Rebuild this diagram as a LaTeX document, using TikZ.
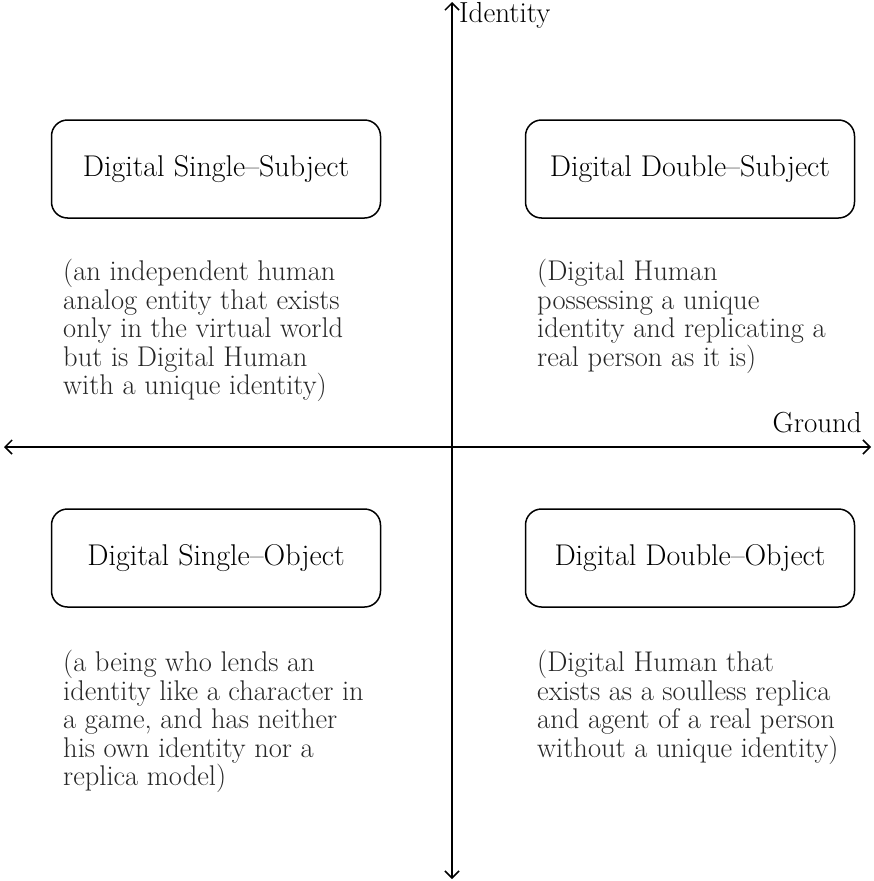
\documentclass[tikz,border=0pt]{standalone}
\usepackage{tikz}
\usetikzlibrary{arrows.meta}

\tikzset{
	quadbox/.style={draw=black, line width=1.5pt, rounded corners=16pt,
		minimum width=329pt, minimum height=98pt,
		font=\fontsize{30}{32}\selectfont},
	desc/.style={anchor=north west, inner sep=0pt, align=left,
		text=black!85, font=\fontsize{28.5}{28.6}\selectfont},
	axis/.style={line width=1.5pt,
		{Straight Barb[length=7pt,width=14pt,line width=1.5pt]}-{Straight Barb[length=7pt,width=14pt,line width=1.5pt]}},
	axlabel/.style={inner sep=0pt, font=\fontsize{29}{30}\selectfont}
}

\begin{document}
\begin{tikzpicture}[x=1pt, y=-1pt]
	
	\useasboundingbox (0,0) rectangle (873,881);
	
	% axes
	\coordinate (west)  at (4, 447);
	\coordinate (east)  at (871, 447);
	\coordinate (north) at (452, 2);
	\coordinate (south) at (452, 879);
	
	\draw[axis] (west) -- (east);
	\draw[axis] (south) -- (north);
	
	\node[axlabel, anchor=base west] (identity) at (459, 22) {Identity};
	\node[axlabel, anchor=base east] (ground) at (862, 432) {Ground};
	
	% quadrants
	\node[quadbox] (sglsubj) at (216, 169) {Digital Single--Subject};
	\node[quadbox] (dblsubj) at (690, 169) {Digital Double--Subject};
	\node[quadbox] (sglobj)  at (216, 558) {Digital Single--Object};
	\node[quadbox] (dblobj)  at (690, 558) {Digital Double--Object};
	
	\node[desc] (sglsubjtxt) at (63, 259)
		{(an independent human\\ analog entity that exists\\ only in the virtual world\\ but is Digital Human\\ with a unique identity)};
	\node[desc] (dblsubjtxt) at (537, 259)
		{(Digital Human\\ possessing a unique\\ identity and replicating a\\ real person as it is)};
	\node[desc] (sglobjtxt) at (63, 650)
		{(a being who lends an\\ identity like a character in\\ a game, and has neither\\ his own identity nor a\\ replica model)};
	\node[desc] (dblobjtxt) at (537, 650)
		{(Digital Human that\\ exists as a soulless replica\\ and agent of a real person\\ without a unique identity)};
	
\end{tikzpicture}
\end{document}
